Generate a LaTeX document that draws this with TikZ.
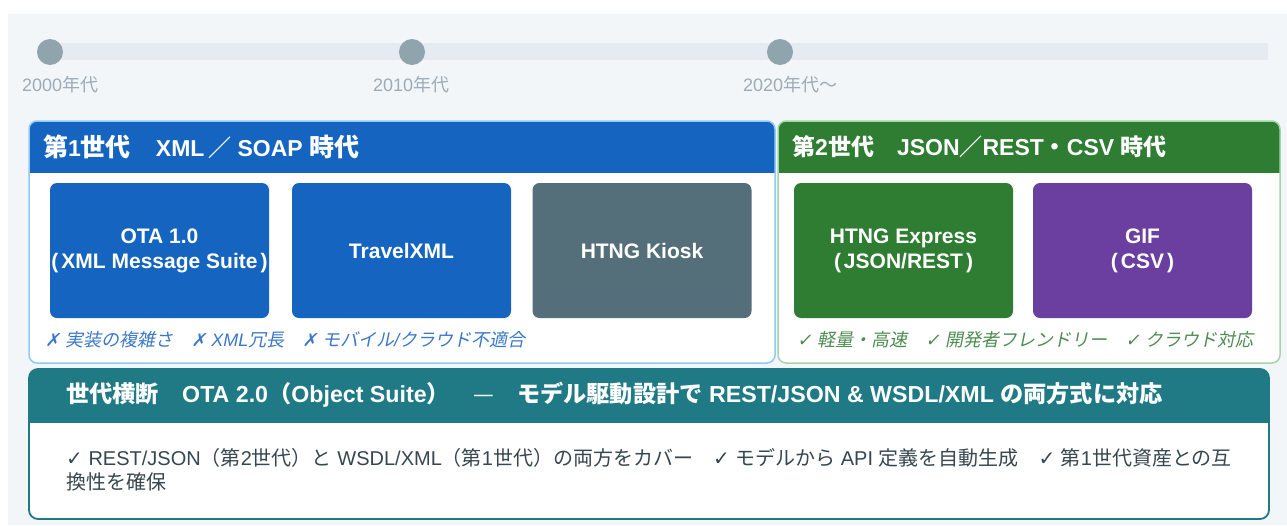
\documentclass[tikz,border=0pt]{standalone}
\usepackage{fontspec}
\setmainfont{Liberation Sans}
\newfontfamily\jpf{Noto Sans CJK JP}[ItalicFont={Noto Sans CJK JP}, ItalicFeatures={FakeSlant=0.2}]
\newfontfamily\symf{DejaVu Sans}[ItalicFont={DejaVu Sans}, ItalicFeatures={FakeSlant=0.2}]
\newcommand\J[1]{{\jpf #1}}
\newcommand\JL[1]{{\jpf\fontsize{25}{27}\selectfont #1}}
\newcommand\Sy[1]{{\symf #1}}
\definecolor{panelbg}{HTML}{F3F6F9}
\definecolor{barbg}{HTML}{E6EBF1}
\definecolor{dotgray}{HTML}{90A4AE}
\definecolor{tlgray}{HTML}{9EABB4}
\definecolor{blueone}{HTML}{1565C0}
\definecolor{gonel}{HTML}{90CAF9}
\definecolor{slate}{HTML}{546E7A}
\definecolor{greenone}{HTML}{2E7D32}
\definecolor{gtwol}{HTML}{A5D6A7}
\definecolor{purp}{HTML}{6B3FA0}
\definecolor{tealh}{HTML}{1F7A86}
\definecolor{fnblue}{HTML}{3B78C9}
\definecolor{fngreen}{HTML}{4E8D52}
\definecolor{bodytext}{HTML}{37474F}
\tikzset{
  tl/.style={anchor=west, text=tlgray, font=\fontsize{18}{22}\selectfont, inner sep=0pt},
  tdot/.style={circle, fill=dotgray, minimum size=26pt, inner sep=0pt},
  card/.style={rectangle, rounded corners=7pt, minimum width=219pt, minimum height=135pt, inner sep=0pt, text=white, align=center, font=\fontsize{21}{25}\selectfont\bfseries},
  hdr/.style={anchor=west, inner sep=0pt, text=white, font=\fontsize{23}{27}\selectfont\bfseries},
  note/.style={anchor=west, inner sep=0pt, font=\fontsize{18}{22}\selectfont\itshape},
}
\begin{document}
\begin{tikzpicture}[x=1pt,y=-1pt]
\useasboundingbox (0,0) rectangle (1287,525);
\fill[white] (0,0) rectangle (1287,525);
\fill[panelbg] (8,14) rectangle (1287,525);
% timeline
\fill[barbg] (50,43) rectangle (1268,60);
\node[tdot] (d1) at (50,52) {};
\node[tdot] (d2) at (412,52) {};
\node[tdot] (d3) at (780,52) {};
\node[tl] (l1) at (22,85) {2000\J{年代}};
\node[tl] (l2) at (373,85) {2010\J{年代}};
\node[tl] (l3) at (743,85) {2020\J{年代〜}};
% generation 1
\fill[white, rounded corners=8pt] (29,121) rectangle (775,363);
\begin{scope}
  \clip[rounded corners=8pt] (29,121) rectangle (775,363);
  \fill[blueone] (29,121) rectangle (775,173);
\end{scope}
\draw[gonel, line width=1.5pt, rounded corners=8pt] (29,121) rectangle (775,363);
\node[hdr] (h1) at (43,147) {\JL{第}1\JL{世代　}XML\hspace{4pt}\J{／}\hspace{6pt}SOAP \JL{時代}};
\node[card, fill=blueone] (ota) at (159.5,250.5) {OTA 1.0\\(\kern3pt XML Message Suite\kern3pt)};
\node[card, fill=blueone] (txml) at (401.5,250.5) {TravelXML};
\node[card, fill=slate] (kiosk) at (642,250.5) {HTNG Kiosk};
\node[note, text=fnblue] (n1) at (45,340) {\Sy{✗} \J{実装の複雑さ　}\Sy{✗} XML\J{冗長　}\Sy{✗} \J{モバイル}/\J{クラウド不適合}};
% generation 2
\fill[white, rounded corners=8pt] (778,121) rectangle (1280,363);
\begin{scope}
  \clip[rounded corners=8pt] (778,121) rectangle (1280,363);
  \fill[greenone] (778,121) rectangle (1280,173);
\end{scope}
\draw[gtwol, line width=1.5pt, rounded corners=8pt] (778,121) rectangle (1280,363);
\node[hdr] (h2) at (792,147) {\J{第}2\J{世代　}JSON\J{／}REST\J{・}CSV \J{時代}};
\node[card, fill=greenone] (hexp) at (903.5,250.5) {HTNG Express\\(\kern3pt JSON/REST\kern3pt)};
\node[card, fill=purp] (gif) at (1142.5,250.5) {GIF\\(\kern3pt CSV\kern3pt)};
\node[note, text=fngreen] (n2) at (797,340) {\Sy{✓} \J{軽量・高速　}\Sy{✓} \J{開発者フレンドリー　}\Sy{✓} \J{クラウド対応}};
% cross generation
\fill[white, rounded corners=9pt] (29,369) rectangle (1269,519);
\begin{scope}
  \clip[rounded corners=9pt] (29,369) rectangle (1269,519);
  \fill[tealh] (29,369) rectangle (1269,423);
\end{scope}
\draw[tealh, line width=1.8pt, rounded corners=9pt] (29,369) rectangle (1269,519);
\node[hdr, font=\fontsize{23.2}{27}\selectfont\bfseries] (h3) at (66,395) {\J{世代横断　}OTA 2.0\J{（}Object Suite\J{）　{\mdseries —}　モデル駆動設計で} REST/JSON \& WSDL/XML \J{の両方式に対応}};
\node[anchor=west, inner sep=0pt, align=left, text=bodytext, font=\fontsize{20}{24}\selectfont] (body) at (66,470)
  {\Sy{✓} REST/JSON\J{（第}2\J{世代）と} WSDL/XML\J{（第}1\J{世代）の両方をカバー　}\Sy{✓} \J{モデルから} API \J{定義を自動生成　}\Sy{✓} \J{第}1\J{世代資産との互}\\\J{換性を確保}};
\end{tikzpicture}
\end{document}
